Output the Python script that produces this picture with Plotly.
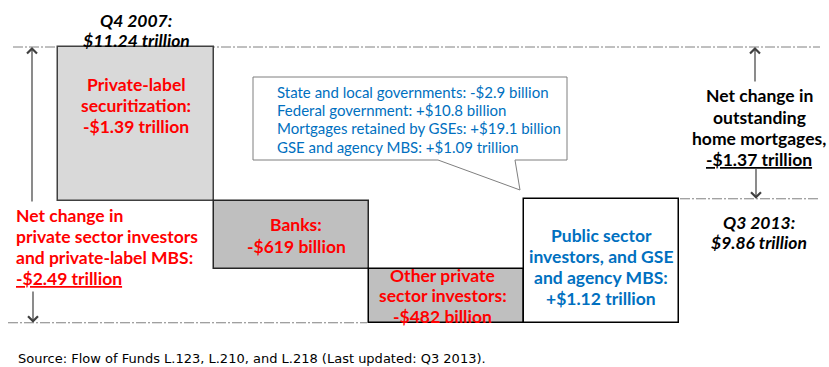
import plotly.graph_objects as go

# ---- data (trillions of US dollars) ----
categories = [
    "Private-label securitization",
    "Banks",
    "Other private sector investors",
    "Public sector investors, and GSE and agency MBS",
]
changes = [-1.39, -0.619, -0.482, 1.12]
start_level = 11.24          # Q4 2007
end_level_reported = 9.86    # Q3 2013
private_net_change = -2.49
total_net_change = -1.37

box_titles = [
    ["Private-label", "securitization:"],
    ["Banks:"],
    ["Other private", "sector investors:"],
    ["Public sector", "investors, and GSE", "and agency MBS:"],
]
callout_lines = [
    "State and local governments: -$2.9 billion",
    "Federal government: +$10.8 billion",
    "Mortgages retained by GSEs: +$19.1 billion",
    "GSE and agency MBS: +$1.09 trillion",
]
source_text = "Source: Flow of Funds L.123, L.210, and L.218 (Last updated: Q3 2013)."


def money(v, sign=True):
    s = "-" if v < 0 else ("+" if sign else "")
    a = abs(v)
    if a < 1:
        return f"{s}${a * 1000:.0f} billion"
    return f"{s}${a:.2f} trillion"


# running levels for the floating boxes
bases = []
level = start_level
for c in changes:
    bases.append(level)
    level += c
private_level = start_level + sum(changes[:3])
end_level = level

# ---- canvas geometry ----
W, H = 829, 367
Y_LO, Y_HI = 8.3493, 11.6646
X_LO, X_HI = -0.8763, 4.4652
RED, BLUE = "#FF0000", "#0070C0"
FONT = "Lato"


def pxx(p):
    return p / W


def pxy(p):
    return 1 - p / H


def yval(p):
    return Y_HI - p * (Y_HI - Y_LO) / H


fig = go.Figure()
fig.add_trace(go.Bar(
    x=list(range(len(categories))),
    y=changes,
    base=bases,
    width=1,
    marker=dict(
        color=["#D9D9D9", "#BFBFBF", "#BFBFBF", "#FFFFFF"],
        line=dict(color=["#404040", "#262626", "#000000", "#000000"], width=1.5),
    ),
    hovertext=categories,
    hoverinfo="text",
    showlegend=False,
))

shapes = []
dash = "10px,2px,2px,2px"
for y, x0, x1 in [(start_level, 13, 820), (private_level, 8, 367), (end_level, 680, 818)]:
    shapes.append(dict(type="line", xref="paper", yref="y", x0=pxx(x0), x1=pxx(x1), y0=y, y1=y,
                       line=dict(color="#808080", width=1, dash=dash), layer="below"))

# speech-bubble callout
pts = [(253, 77), (567, 77), (567, 160), (515, 160), (520, 190), (438, 160), (253, 160)]
path = "M" + " L".join(f"{pxx(a):.5f},{pxy(b):.5f}" for a, b in pts) + " Z"
shapes.append(dict(type="path", xref="paper", yref="paper", path=path,
                   line=dict(color="#7F7F7F", width=1), fillcolor="#FFFFFF", layer="above"))

ann = []


def text_block(lines, x, y0, color, size, step=21.3, weight="bold", style="normal",
               xanchor="center", underline_last=False, family=FONT):
    for i, t in enumerate(lines):
        if underline_last and i == len(lines) - 1:
            t = f"<u>{t}</u>"
        ann.append(dict(xref="paper", yref="paper", x=pxx(x), y=pxy(y0 + i * step), text=t,
                        showarrow=False, xanchor=xanchor, yanchor="middle",
                        font=dict(family=family, size=size, color=color, weight=weight, style=style)))


LS = 17.5
# box labels
text_block(box_titles[0] + [money(changes[0])], 136, 84, RED, LS)
text_block(box_titles[1] + [money(changes[1])], 296, 225, RED, LS)
text_block(box_titles[2] + [money(changes[2])], 443, 275, RED, LS, step=20.8)
text_block(box_titles[3] + [money(changes[3])], 601, 236, BLUE, LS, step=20.8)

# start / end levels
text_block(["Q4 2007:", money(start_level, sign=False)], 136, 20, "#000000", LS, step=20.5, style="italic")
text_block(["Q3 2013:", money(end_level_reported, sign=False)], 759, 222, "#000000", LS, step=20.5, style="italic")

# net change notes
text_block(["Net change in", "private sector investors", "and private-label MBS:", money(private_net_change, sign=False)],
           14, 215, RED, LS, step=21.2, xanchor="left", underline_last=True)
text_block(["Net change in", "outstanding", "home mortgages,", money(total_net_change, sign=False)],
           759, 96, "#000000", LS, step=21.2, underline_last=True)

# callout text
text_block(callout_lines, 275, 92, BLUE, 15, step=18.2, weight="normal", xanchor="left")

# source note
ann.append(dict(xref="paper", yref="paper", x=pxx(16), y=pxy(358), text=source_text, showarrow=False,
                xanchor="left", yanchor="middle",
                font=dict(family="DejaVu Sans", size=13, color="#000000")))

# vertical arrows
arrow = dict(showarrow=True, arrowhead=4, arrowsize=1.6, arrowwidth=1.2, arrowcolor="#404040",
             xref="paper", yref="y", axref="pixel", ayref="y", ax=0, text="")
for x, tip, tail in [(32, start_level, yval(203)), (33, private_level, yval(290)),
                     (755, start_level, yval(83)), (756, end_level, yval(167))]:
    a = dict(arrow)
    a.update(x=pxx(x), y=tip, ay=tail)
    ann.append(a)

fig.update_layout(
    width=W, height=H,
    margin=dict(l=0, r=0, t=0, b=0),
    paper_bgcolor="#FFFFFF", plot_bgcolor="#FFFFFF",
    xaxis=dict(range=[X_LO, X_HI], visible=False, fixedrange=True),
    yaxis=dict(range=[Y_LO, Y_HI], visible=False, fixedrange=True),
    bargap=0,
    shapes=shapes,
    annotations=ann,
)

fig.write_html("out.html")
